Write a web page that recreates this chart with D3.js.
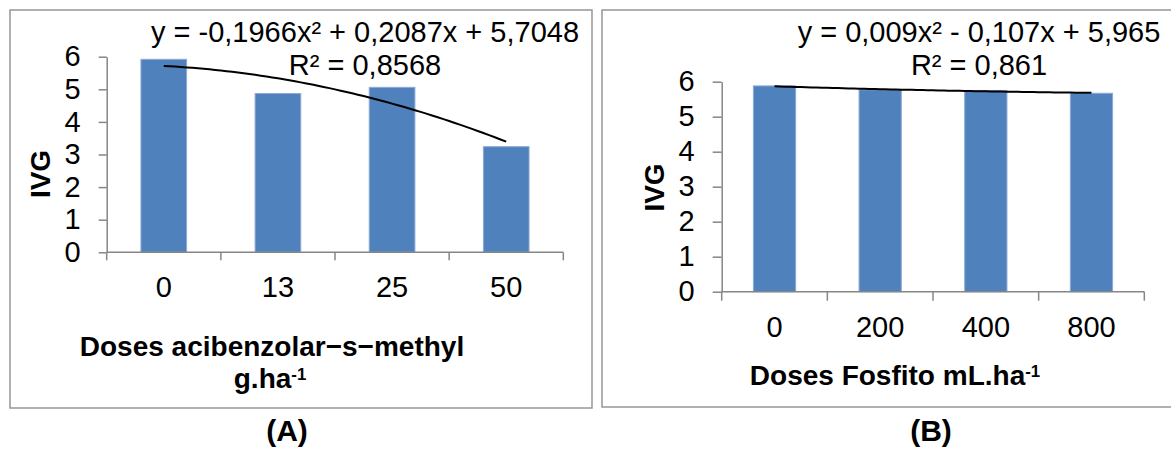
<!DOCTYPE html>
<html>
<head>
<meta charset="utf-8">
<script src="https://cdn.jsdelivr.net/npm/d3@7"></script>
<style>
  body { margin: 0; background: #fff; }
  text { font-family: "Liberation Sans", Arial, sans-serif; fill: #000; }
</style>
</head>
<body>
<div id="chart"></div>
<script>
// values
var dosesA = ["0", "13", "25", "50"];
var ivgA = [5.92, 4.87, 5.06, 3.24];
var coefA = [-0.1966, 0.2087, 5.7048];
var eqA = ["y = -0,1966x² + 0,2087x + 5,7048", "R² = 0,8568"];

var dosesB = ["0", "200", "400", "800"];
var ivgB = [5.88, 5.77, 5.75, 5.67];
var coefB = [0.009, -0.107, 5.965];
var eqB = ["y = 0,009x² - 0,107x + 5,965", "R² = 0,861"];

var yTicks = [0, 1, 2, 3, 4, 5, 6];

var svg = d3.select("#chart").append("svg")
    .attr("width", 1171)
    .attr("height", 450);

svg.append("rect").attr("width", 1171).attr("height", 450).attr("fill", "#fff");

function txt(g, x, y, s, size, weight) {
    return g.append("text")
        .attr("x", x)
        .attr("y", y)
        .attr("text-anchor", "middle")
        .attr("font-size", size)
        .attr("font-weight", weight || "normal")
        .text(s);
}

function sup(t, s) {
    t.append("tspan").attr("dy", "-0.45em").attr("font-size", "0.6em").text(s);
}

function drawPanel(p) {
    var g = svg.append("g");

    g.append("rect")
        .attr("x", p.box[0]).attr("y", p.box[1])
        .attr("width", p.box[2]).attr("height", p.box[3])
        .attr("fill", "none")
        .attr("stroke", "#979797")
        .attr("stroke-width", 1.5);

    var x = d3.scaleBand()
        .domain(p.cats)
        .range([p.left, p.right])
        .paddingInner(0.6)
        .paddingOuter(0.3);

    var y = d3.scaleLinear()
        .domain([0, 6])
        .range([p.bottom, p.top]);

    // bars
    g.selectAll(".bar")
        .data(p.vals)
        .enter().append("rect")
        .attr("class", "bar")
        .attr("x", function(d, i) { return x(p.cats[i]); })
        .attr("y", function(d) { return y(d); })
        .attr("width", x.bandwidth())
        .attr("height", function(d) { return p.bottom - y(d); })
        .attr("fill", "#4f81bd")
        .attr("stroke", "#8eaad6")
        .attr("stroke-width", 1);

    // y axis
    var yAxis = g.append("g")
        .attr("transform", "translate(" + p.left + ",0)")
        .call(d3.axisLeft(y).tickValues(yTicks).tickFormat(d3.format("d"))
            .tickSize(p.tick).tickSizeOuter(0).tickPadding(p.yPad));
    yAxis.select(".domain").attr("stroke", "#868686").attr("stroke-width", 1.5);
    yAxis.selectAll(".tick line").attr("stroke", "#868686").attr("stroke-width", 1.5);
    yAxis.selectAll("text")
        .attr("font-size", p.font)
        .attr("font-family", null)
        .attr("fill", "#000");

    // x axis: labels at centres, ticks between categories
    var xAxis = g.append("g")
        .attr("transform", "translate(0," + p.bottom + ")")
        .call(d3.axisBottom(x).tickSize(0).tickPadding(p.xPad));
    xAxis.select(".domain").remove();
    xAxis.selectAll("text")
        .attr("font-size", p.font)
        .attr("font-family", null)
        .attr("fill", "#000");

    g.append("line")
        .attr("x1", p.left).attr("x2", p.right)
        .attr("y1", p.bottom).attr("y2", p.bottom)
        .attr("stroke", "#868686").attr("stroke-width", 1.5);
    g.selectAll(".xtick")
        .data(d3.range(p.cats.length + 1))
        .enter().append("line")
        .attr("class", "xtick")
        .attr("x1", function(i) { return p.left + i * x.step(); })
        .attr("x2", function(i) { return p.left + i * x.step(); })
        .attr("y1", p.bottom)
        .attr("y2", p.bottom + p.tick)
        .attr("stroke", "#868686").attr("stroke-width", 1.5);

    // polynomial trend line from the printed equation
    var c0 = x(p.cats[0]) + x.bandwidth() / 2;
    var pts = d3.range(1, 4.001, 0.05).map(function(t) {
        return [c0 + (t - 1) * x.step(), y(p.coef[0] * t * t + p.coef[1] * t + p.coef[2])];
    });
    g.append("path")
        .attr("d", d3.line()(pts))
        .attr("fill", "none")
        .attr("stroke", "#000")
        .attr("stroke-width", 2);

    // equation and R²
    txt(g, p.eqX, 42, p.eq[0], 29);
    txt(g, p.eqX, 75, p.eq[1], 29);

    // y title
    g.append("text")
        .attr("transform", "translate(" + p.ivg[0] + "," + p.ivg[1] + ") rotate(-90)")
        .attr("text-anchor", "middle")
        .attr("dy", "0.36em")
        .attr("font-size", 28)
        .attr("font-weight", "bold")
        .text("IVG");

    p.title(g);
}

drawPanel({
    box: [10, 10, 582, 398],
    cats: dosesA, vals: ivgA, coef: coefA, eq: eqA,
    left: 106.7, right: 563.3, top: 56.7, bottom: 252.3,
    tick: 8, yPad: 18, xPad: 24.5, font: 29,
    eqX: 365, ivg: [40, 174],
    title: function(g) {
        txt(g, 272, 356, "Doses acibenzolar−s−methyl", 28, "bold");
        sup(txt(g, 270, 388, "g.ha", 28, "bold"), "-1");
        txt(g, 287, 441, "(A)", 30, "bold");
    }
});

drawPanel({
    box: [602, 10, 580, 397],
    cats: dosesB, vals: ivgB, coef: coefB, eq: eqB,
    left: 721.7, right: 1144.3, top: 81.7, bottom: 291.7,
    tick: 9, yPad: 18, xPad: 24.5, font: 29,
    eqX: 979, ivg: [654, 187.5],
    title: function(g) {
        sup(txt(g, 895, 385, "Doses Fosfito mL.ha", 28, "bold"), "-1");
        txt(g, 931, 441, "(B)", 30, "bold");
    }
});
</script>
</body>
</html>
